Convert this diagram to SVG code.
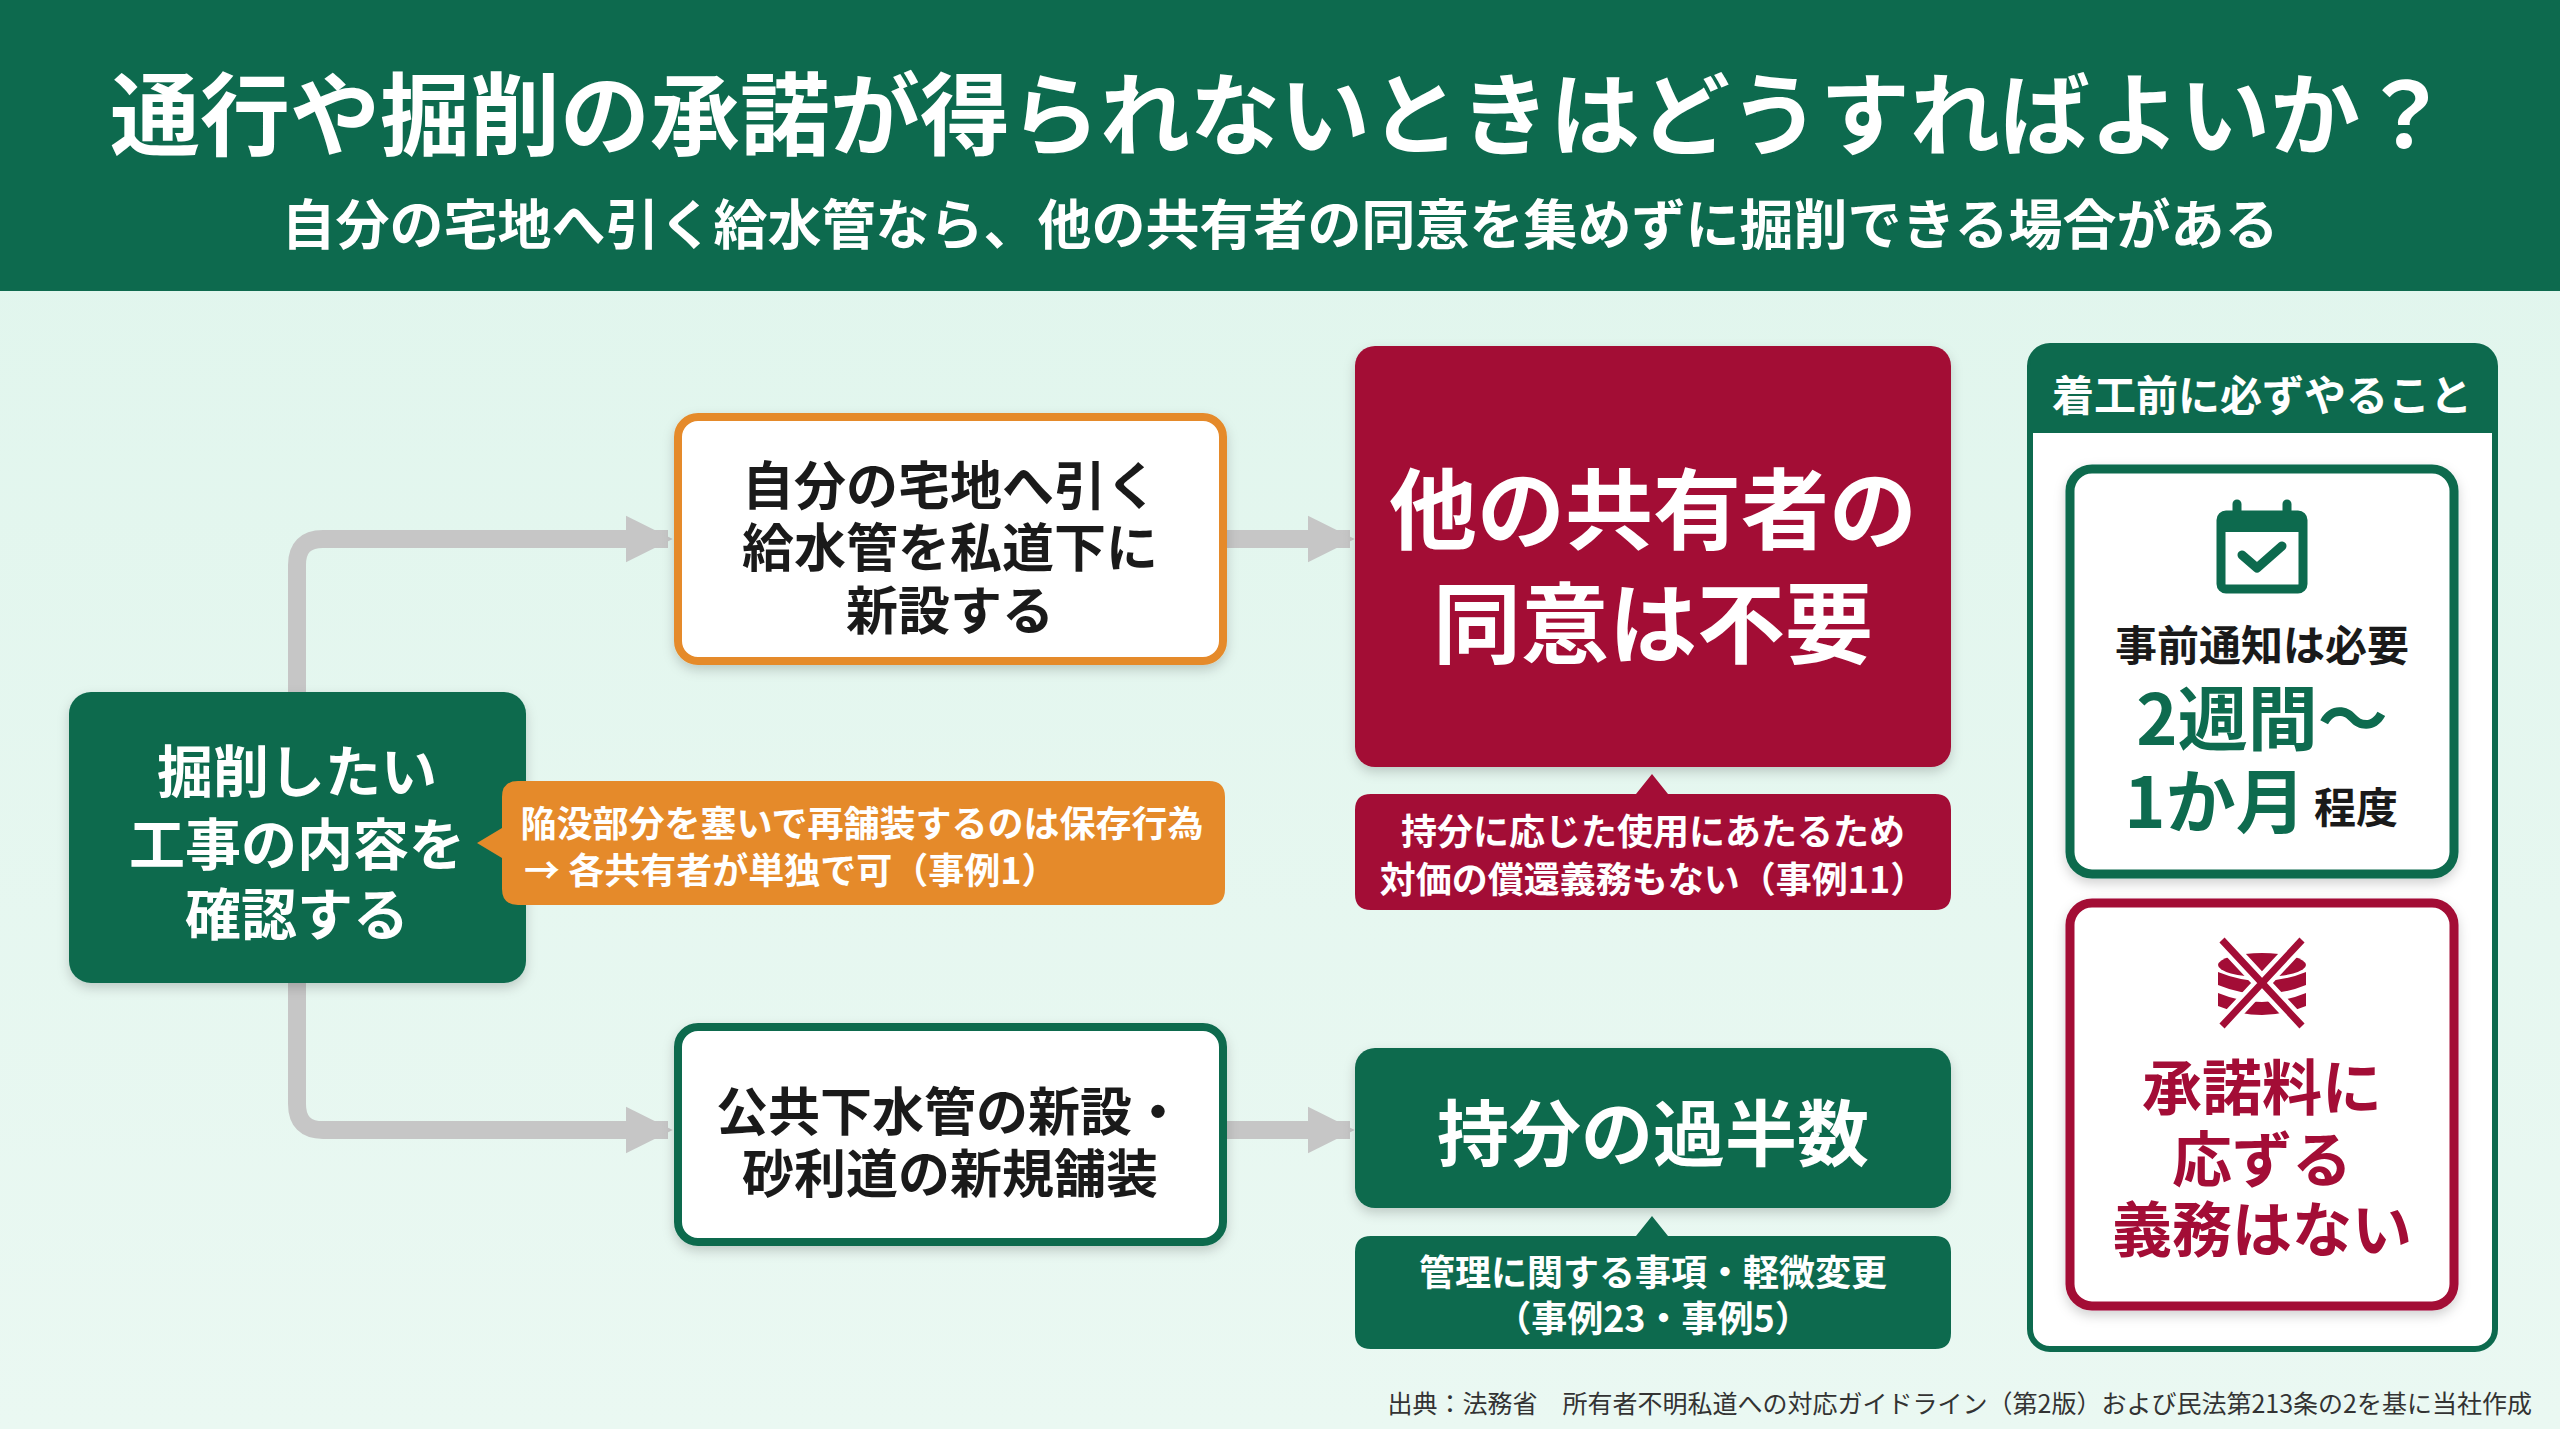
<svg xmlns="http://www.w3.org/2000/svg" width="2560" height="1429" viewBox="0 0 2560 1429">
<defs>
<style>
text{font-family:"Noto Sans CJK JP","Noto Sans",sans-serif;font-weight:700;text-anchor:middle;dominant-baseline:central}
.w{fill:#fff}.k{fill:#1a1a1a}.g{fill:#0e6b4f}.r{fill:#a30d36}
.conn{fill:none;stroke:#c6c6c6;stroke-width:18;stroke-linejoin:round}
</style>
<marker id="ah" viewBox="0 0 10 10" refX="9" refY="5" markerWidth="2.6" markerHeight="3.2" orient="auto" markerUnits="strokeWidth"><path d="M0,0L10,5L0,10z" fill="#c6c6c6"/></marker>
<filter id="sh" x="-10%" y="-10%" width="120%" height="130%"><feDropShadow dx="0" dy="5" stdDeviation="6" flood-opacity="0.18"/></filter>
<linearGradient id="bg" x1="0" y1="0" x2="0" y2="1"><stop offset="0" stop-color="#dff5ec"/><stop offset="1" stop-color="#eaf8f2"/></linearGradient>
</defs>
<rect width="2560" height="1429" fill="url(#bg)"/>
<g id="header">
<rect width="2560" height="291" fill="#0d6a4e"/>
<text x="1280" y="109" class="w" font-size="90">通行や掘削の承諾が得られないときはどうすればよいか？</text>
<text x="1280" y="221" class="w" font-size="54">自分の宅地へ引く給水管なら、他の共有者の同意を集めずに掘削できる場合がある</text>
</g>
<g id="connectors">
<path class="conn" d="M297,692 V565 Q297,539 323,539 H668" marker-end="url(#ah)"/>
<path class="conn" d="M297,983 V1104 Q297,1130 323,1130 H668" marker-end="url(#ah)"/>
<path class="conn" d="M1225,539 H1350" marker-end="url(#ah)"/>
<path class="conn" d="M1225,1130 H1350" marker-end="url(#ah)"/>
</g>
<g id="start">
<rect x="69" y="692" width="457" height="291" rx="22" fill="#0d6a4e" filter="url(#sh)"/>
<text x="297" y="767" class="w" font-size="56">掘削したい</text>
<text x="297" y="840" class="w" font-size="56">工事の内容を</text>
<text x="297" y="910" class="w" font-size="56">確認する</text>
</g>
<g id="note-orange">
<path d="M518,781 H1209 Q1225,781 1225,797 V889 Q1225,905 1209,905 H518 Q502,905 502,889 V858 L477,843 L502,828 V797 Q502,781 518,781Z" fill="#e58a2a"/>
<text x="862" y="821" class="w" font-size="36">陥没部分を塞いで再舗装するのは保存行為</text>
<text x="524" y="868" class="w" font-size="36" style="text-anchor:start">→ 各共有者が単独で可（事例1）</text>
</g>
<g id="box-water">
<rect x="678" y="417" width="545" height="244" rx="20" fill="#fff" stroke="#e58a2a" stroke-width="8" filter="url(#sh)"/>
<text x="950" y="482" class="k" font-size="52">自分の宅地へ引く</text>
<text x="950" y="544" class="k" font-size="52">給水管を私道下に</text>
<text x="950" y="607" class="k" font-size="52">新設する</text>
</g>
<g id="box-sewer">
<rect x="678" y="1027" width="545" height="215" rx="20" fill="#fff" stroke="#0d6a4e" stroke-width="8" filter="url(#sh)"/>
<text x="950" y="1108" class="k" font-size="52">公共下水管の新設・</text>
<text x="950" y="1170" class="k" font-size="52">砂利道の新規舗装</text>
</g>
<g id="result-red">
<rect x="1355" y="346" width="596" height="421" rx="20" fill="#a30d36" filter="url(#sh)"/>
<text x="1653" y="503" class="w" font-size="88">他の共有者の</text>
<text x="1653" y="617" class="w" font-size="88">同意は不要</text>
</g>
<g id="note-red">
<path d="M1371,794 H1636 L1652,774 L1668,794 H1935 Q1951,794 1951,810 V894 Q1951,910 1935,910 H1371 Q1355,910 1355,894 V810 Q1355,794 1371,794Z" fill="#a30d36"/>
<text x="1653" y="829" class="w" font-size="36">持分に応じた使用にあたるため</text>
<text x="1653" y="877" class="w" font-size="36">対価の償還義務もない（事例11）</text>
</g>
<g id="result-green">
<rect x="1355" y="1048" width="596" height="160" rx="20" fill="#0d6a4e" filter="url(#sh)"/>
<text x="1653" y="1128" class="w" font-size="72">持分の過半数</text>
</g>
<g id="note-green">
<path d="M1371,1236 H1636 L1652,1216 L1668,1236 H1935 Q1951,1236 1951,1252 V1333 Q1951,1349 1935,1349 H1371 Q1355,1349 1355,1333 V1252 Q1355,1236 1371,1236Z" fill="#0d6a4e"/>
<text x="1653" y="1270" class="w" font-size="36">管理に関する事項・軽微変更</text>
<text x="1653" y="1316" class="w" font-size="36">（事例23・事例5）</text>
</g>
<g id="panel">
<rect x="2030" y="346" width="465" height="1003" rx="20" fill="#fff" stroke="#0d6a4e" stroke-width="6"/>
<path d="M2050,346 H2475 Q2495,346 2495,366 V433 H2030 V366 Q2030,346 2050,346Z" fill="#0d6a4e"/>
<text x="2262" y="392" class="w" font-size="42">着工前に必ずやること</text>
</g>
<g id="notice">
<rect x="2070" y="469" width="384" height="405" rx="22" fill="#fff" stroke="#0d6a4e" stroke-width="9" filter="url(#sh)"/>
<g fill="none" stroke="#0d6a4e" stroke-width="9">
<rect x="2221" y="515" width="82" height="74" rx="5"/>
<path d="M2237,504 V522 M2287,504 V522" stroke-linecap="round"/>
<path d="M2242,555 L2257,568 L2282,546" stroke-linecap="round" stroke-linejoin="round"/>
</g>
<path d="M2221,520 Q2221,515 2226,515 H2298 Q2303,515 2303,520 V532 H2221Z" fill="#0d6a4e"/>
<text x="2262" y="642" class="k" font-size="42">事前通知は必要</text>
<text x="2262" y="714" class="g" font-size="70">2週間〜</text>
<text x="2215" y="797" class="g" font-size="70">1か月</text>
<text x="2356" y="804" class="k" font-size="42">程度</text>
</g>
<g id="nofee">
<rect x="2070" y="903" width="384" height="403" rx="22" fill="#fff" stroke="#a30d36" stroke-width="9" filter="url(#sh)"/>
<g fill="#a30d36">
<ellipse cx="2262" cy="965" rx="44" ry="12"/>
<path d="M2218,972 Q2262,990 2306,972 V985 Q2262,1003 2218,985Z"/>
<path d="M2218,993 Q2262,1011 2306,993 V1006 Q2262,1024 2218,1006Z"/>
</g>
<path d="M2222,940 L2302,1026 M2302,940 L2222,1026" stroke="#fff" stroke-width="16"/>
<path d="M2222,940 L2302,1026 M2302,940 L2222,1026" stroke="#a30d36" stroke-width="7"/>
<text x="2262" y="1083" class="r" font-size="60">承諾料に</text>
<text x="2262" y="1155" class="r" font-size="60">応ずる</text>
<text x="2262" y="1225" class="r" font-size="60">義務はない</text>
</g>
<text x="2532" y="1402" font-size="25" fill="#333" style="text-anchor:end;font-weight:400">出典：法務省　所有者不明私道への対応ガイドライン（第2版）および民法第213条の2を基に当社作成</text>
</svg>
